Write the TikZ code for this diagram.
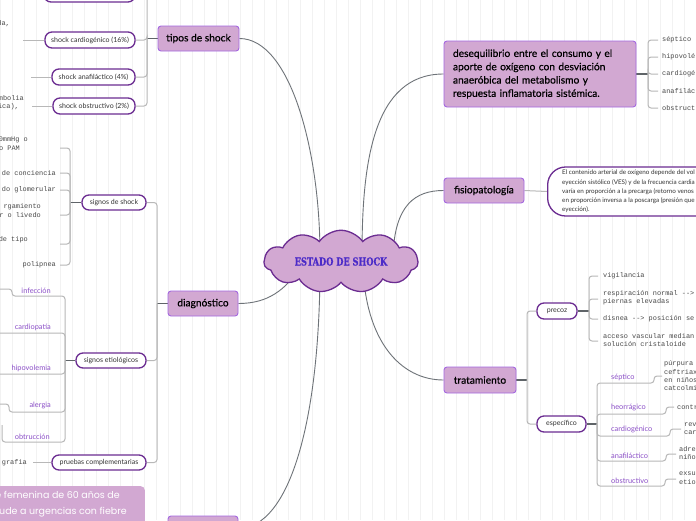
\documentclass[tikz,border=0pt]{standalone}
\usepackage{fontspec}
\setmainfont{Lato}
\newfontfamily\topicf[FakeBold=0.5]{Lato}
\newfontfamily\monof{Liberation Mono}
\newfontfamily\slab[FakeStretch=0.75,FakeBold=0.6]{DejaVu Serif}
\newfontfamily\casef{Poppins}
\usetikzlibrary{shapes.symbols}
\definecolor{topicfill}{HTML}{D2A8D2}
\definecolor{topicdraw}{HTML}{A468E0}
\definecolor{pilldraw}{HTML}{6B2C91}
\definecolor{conn}{HTML}{6E7378}
\definecolor{brack}{HTML}{B8B8B8}
\definecolor{junccol}{HTML}{5F6468}
\definecolor{labpurple}{HTML}{8C50C8}
\definecolor{monogray}{HTML}{4A4A4A}
\definecolor{titleblue}{HTML}{4B2BC8}
\definecolor{gridc}{HTML}{F2F2F2}
\pgfdeclarelayer{bg}
\pgfdeclarelayer{conns}
\pgfsetlayers{bg,conns,main}
\begin{document}
\begin{tikzpicture}[x=1pt,y=-1pt,
 topic/.style={draw=topicdraw,line width=0.9pt,fill=topicfill,rounded corners=3pt,inner sep=0pt,font=\topicf\fontsize{10.2}{13.3}\selectfont},
 pill/.style={draw=pilldraw,line width=1.3pt,fill=white,rounded corners=7pt,inner sep=0pt,minimum height=15pt,text=black!80,font=\fontsize{7}{8}\selectfont},
 mono/.style={inner sep=0pt,text=monogray,font=\monof\fontsize{6.9}{8}\selectfont},
 lab/.style={inner sep=0pt,text=labpurple,font=\fontsize{7.4}{9}\selectfont},
 curve/.style={draw=conn,line width=0.9pt},
 brk/.style={draw=brack,line width=1pt,rounded corners=3pt},
 junc/.style={draw=junccol,line width=1.5pt},
]
\useasboundingbox (0,0) rectangle (696,520);
\clip (0,0) rectangle (696,520);
\begin{pgfonlayer}{bg}
\fill[white] (0,0) rectangle (696,520);
\draw[gridc,line width=0.5pt,step=12] (0,0) grid (696,520);
\end{pgfonlayer}

% ---------- main topics ----------
\node[cloud,cloud puffs=11,cloud puff arc=110,aspect=2.9,draw=pilldraw,line width=1.3pt,fill=topicfill,minimum width=154pt,minimum height=53pt,inner sep=0pt] (core) at (341,261.5) {\slab\bfseries\fontsize{11}{12}\selectfont\color{titleblue}ESTADO DE SHOCK};
\node[topic,minimum width=81pt,minimum height=25pt] (tipos) at (198.5,38.5) {tipos de shock};
\node[topic,minimum height=66pt,inner xsep=9pt,text width=174pt,align=left] (deseq) at (540,74) {desequilibrio entre el consumo y el\\aporte de oxígeno con desviación\\anaeróbica del metabolismo y\\respuesta inflamatoria sistémica.};
\node[topic,minimum width=80pt,minimum height=25pt] (fisio) at (484,190.5) {fisiopatología};
\node[topic,minimum width=70pt,minimum height=25pt] (diag) at (203,303.5) {diagnóstico};
\node[topic,minimum width=72pt,minimum height=26pt] (trat) at (480,380) {tratamiento};
\node[topic,minimum width=70pt,minimum height=25pt] (bot) at (203,528.5) {};
\node[fill=topicfill,rounded corners=4pt,minimum width=160pt,minimum height=50pt,anchor=north east] (caso) at (145,486) {};
\node[inner sep=0pt,text=white,font=\casef\fontsize{9.5}{11}\selectfont,anchor=east] (caso1) at (120,495) {e femenina de 60 años de};
\node[inner sep=0pt,text=white,font=\casef\fontsize{9.5}{11}\selectfont,anchor=east] (caso2) at (127,512) {cude a urgencias con fiebre};

% ---------- tipos de shock ----------
\node[pill,minimum width=91pt,minimum height=16pt] (ptop) at (89.5,-6) {};
\node[pill,minimum width=90pt,minimum height=16pt] (pcar) at (90,40) {shock cardiogénico (16\%)};
\node[pill,minimum width=83pt,minimum height=16pt] (pana) at (93.5,77) {shock anafiláctico (4\%)};
\node[pill,minimum width=82pt,minimum height=16pt] (pobs) at (94,106) {shock obstructivo (2\%)};
\node[mono,anchor=east] (tda) at (10,24) {da,};
\node[mono,anchor=east] (tmb) at (24,98) {mbolia};
\node[mono,anchor=east] (tic) at (19,107) {ica),};
\coordinate (jT) at (147,38.5);
\coordinate (ocar) at (23,40);
\coordinate (oana) at (31,77);
\coordinate (oobs) at (32,106);

% ---------- diagnostico ----------
\node[pill,minimum width=64pt] (sshock) at (114,202.5) {signos de shock};
\node[pill,minimum width=70pt] (setio) at (111,360.5) {signos etiológicos};
\node[pill,minimum width=94pt] (pruebas) at (99,462.5) {pruebas complementarias};
\coordinate (jD) at (157,303.5);
\coordinate (jS) at (70,202.5);
\coordinate (jE) at (65,360.5);
\node[mono,anchor=east] (s1a) at (28,140) {0mmHg o};
\node[mono,anchor=east] (s1b) at (20,148) {o PAM};
\node[mono,anchor=east] (s2) at (56,173) {de conciencia};
\node[mono,anchor=east] (s3) at (56,190) {do glomerular};
\node[mono,anchor=east] (s4a) at (41,207) {rgamiento};
\node[mono,anchor=east] (s4b) at (41,215) {r o livedo};
\node[mono,anchor=east] (s5) at (28,240) {de tipo};
\node[mono,anchor=east] (s6) at (56,265) {polipnea};
\coordinate (o1) at (60,148);
\coordinate (o2) at (60,173);
\coordinate (o3) at (60,190);
\coordinate (o4) at (60,215);
\coordinate (o5) at (60,244);
\coordinate (o6) at (60,265);
\node[lab,anchor=south east] (e1) at (51,293.5) {infección};
\node[lab,anchor=south east] (e2) at (51,330.5) {cardiopatía};
\node[lab,anchor=south east] (e3) at (51,371.5) {hipovolemia};
\node[lab,anchor=south east] (e4) at (51,409.5) {alergia};
\node[lab,anchor=south east] (e5) at (50,439.5) {obtrucción};
\node[mono,anchor=east] (pgr) at (27,462.5) {grafia};
\coordinate (opr) at (33,462.5);

% ---------- desequilibrio ----------
\coordinate (jDe) at (648,74);
\foreach \t/\yy [count=\i] in {séptico/40,hipovolé/57,cardiogé/74,anafilác/91,obstruct/108}{
  \node[mono,anchor=west] (d\i) at (662,\yy) {\t};
  \coordinate (od\i) at (658,\yy);
}

% ---------- fisiopatologia ----------
\node[pill,minimum width=213pt,minimum height=49pt,rounded corners=18pt,anchor=west] (fchild) at (547,191.5) {};
\node[inner sep=0pt,anchor=north west,align=left,text=black!80,font=\fontsize{6.3}{9.2}\selectfont] (ftext) at (562,170) {El contenido arterial de oxígeno depende del vol\\eyección sistólico (VES) y de la frecuencia cardia\\varía en proporción a la precarga (retorno venos\\en proporción inversa a la poscarga (presión que\\eyección).};

% ---------- tratamiento ----------
\node[pill,minimum width=40pt,minimum height=16pt] (precoz) at (557,311) {precoz};
\node[pill,minimum width=49pt,minimum height=16pt] (espec) at (561.5,424) {específico};
\coordinate (jTr) at (527,380);
\coordinate (jP) at (589,311);
\coordinate (jEs) at (597,424);
\node[mono,anchor=west] (p1) at (603,276) {vigilancia};
\node[mono,anchor=west] (p2a) at (603,294) {respiración normal -{}->};
\node[mono,anchor=west] (p2b) at (603,302) {piernas elevadas};
\node[mono,anchor=west] (p3) at (603,319) {disnea -{}-> posición se};
\node[mono,anchor=west] (p4a) at (603,336) {acceso vascular median};
\node[mono,anchor=west] (p4b) at (603,344) {solución cristaloide};
\coordinate (op1) at (598,276);
\coordinate (op2) at (598,299);
\coordinate (op3) at (598,319);
\coordinate (op4) at (598,341);

\node[lab,anchor=south west] (x1) at (611,380.5) {séptico};
\node[lab,anchor=south west] (x2) at (611,411.5) {heorrágico};
\node[lab,anchor=south west] (x3) at (611,433.5) {cardiogénico};
\node[lab,anchor=south west] (x4) at (611,458.5) {anafiláctico};
\node[lab,anchor=south west] (x5) at (611,483.5) {obstructivo};
\node[mono,anchor=west] (y1a) at (664,364) {púrpura};
\node[mono,anchor=west] (y1b) at (664,372) {ceftriax};
\node[mono,anchor=west] (y1c) at (664,380) {en niños};
\node[mono,anchor=west] (y1d) at (664,388) {catcolmi};
\node[mono,anchor=west] (y2) at (677,407) {contr};
\node[mono,anchor=west] (y3a) at (684,425) {rev};
\node[mono,anchor=west] (y3b) at (684,433) {car};
\node[mono,anchor=west] (y4a) at (679,449) {adre};
\node[mono,anchor=west] (y4b) at (679,457) {niño};
\node[mono,anchor=west] (y5a) at (679,474) {exsu};
\node[mono,anchor=west] (y5b) at (679,482) {etiol};

% ---------- connectors ----------
\begin{pgfonlayer}{conns}
% from the core
\draw[curve] (tipos.east) .. controls (290,38.5) and (320,150) .. (320,255);
\draw[curve] (deseq.west) .. controls (372,74) and (362,166) .. (362,255);
\draw[curve] (fisio.west) .. controls (415,190.5) and (395,205) .. (393,255);
\draw[curve] (diag.east) .. controls (268,303.5) and (285,290) .. (300,268);
\draw[curve] (trat.west) .. controls (400,380) and (365,340) .. (363,265);
\draw[curve] (bot.east) .. controls (290,528) and (320,420) .. (320,265);
% tipos
\draw[junc] (tipos.west) -- (jT);
\foreach \n in {ptop,pcar,pana,pobs} \draw[brk] (\n.east) -| (jT);
\draw[brk] (pcar.west) -- (ocar);
\draw[brk] (pana.west) -- (oana);
\draw[brk] (pobs.west) -- (oobs);
% diagnostico
\draw[junc] (diag.west) -- (jD);
\foreach \n in {sshock,setio,pruebas} \draw[brk] (\n.east) -| (jD);
\draw[junc] (sshock.west) -- (jS);
\foreach \n in {o1,o2,o3,o4,o5,o6} \draw[brk] (\n) -| (jS);
\draw[junc] (setio.west) -- (jE);
\draw[brk] (-5,289) -- (12,289) -- (12,296) -| (jE);
\draw[brk] (-5,333) -| (jE);
\draw[brk] (-5,374) -| (jE);
\draw[brk] (-5,404) -- (9,404) -- (9,412) -| (jE);
\draw[brk] (2,425) -- (2,442) -| (jE);
\draw[brk] (pruebas.west) -- (opr);
% desequilibrio
\draw[junc] (deseq.east) -- (jDe);
\foreach \i in {1,...,5} \draw[brk] (od\i) -| (jDe);
% fisiopatologia
\draw[brk] (fisio.east) -- (fchild.west);
% tratamiento
\draw[junc] (trat.east) -- (jTr);
\draw[brk] (precoz.west) -| (jTr);
\draw[brk] (espec.west) -| (jTr);
\draw[junc] (precoz.east) -- (jP);
\foreach \n in {op1,op2,op3,op4} \draw[brk] (\n) -| (jP);
\draw[junc] (espec.east) -- (jEs);
\draw[brk] (662,376) -- (654,376) -- (654,383) -| (jEs);
\draw[brk] (674,407) -- (666,407) -- (666,414) -| (jEs);
\draw[brk] (681,429) -- (670,429) -- (670,436) -| (jEs);
\draw[brk] (676,454) -- (666,454) -- (666,461) -| (jEs);
\draw[brk] (676,479) -- (665,479) -- (665,486) -| (jEs);
\end{pgfonlayer}
\end{tikzpicture}
\end{document}
